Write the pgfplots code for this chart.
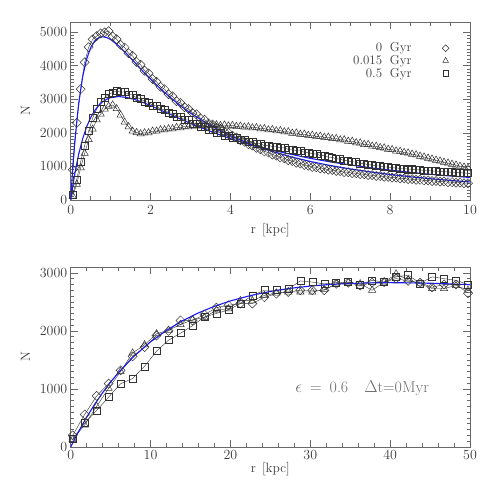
\documentclass[border=0pt]{standalone}
\usepackage{fontspec}
\usepackage{pgfplots}
\pgfplotsset{compat=1.18}
\usepackage{pgfplotstable}

\definecolor{mk}{RGB}{50,50,50}
\definecolor{ax}{RGB}{105,105,105}
\definecolor{txt}{RGB}{60,60,60}
\definecolor{fitblue}{RGB}{25,25,255}

% top panel: N(r) at three times, r in kpc
\pgfplotstableread{
r D T S
0.05 900 120 150
0.15 2300 470 610
0.25 3300 960 1140
0.35 4100 1390 1630
0.45 4550 1800 2050
0.55 4780 2110 2440
0.65 4880 2390 2710
0.75 4960 2560 2920
0.85 4990 2710 3050
0.95 5030 2790 3150
1.05 4870 2830 3200
1.15 4790 2720 3250
1.25 4620 2530 3210
1.35 4540 2320 3220
1.45 4370 2180 3140
1.55 4290 2050 3130
1.65 4110 2010 3040
1.75 4030 1970 3020
1.85 3850 2000 2930
1.95 3770 2000 2910
2.05 3600 2050 2820
2.15 3520 2050 2800
2.25 3370 2090 2710
2.35 3300 2090 2690
2.45 3150 2120 2600
2.55 3090 2120 2580
2.65 2940 2160 2490
2.75 2890 2150 2480
2.85 2760 2190 2390
2.95 2710 2180 2380
3.05 2590 2210 2280
3.15 2550 2200 2270
3.25 2430 2230 2190
3.35 2390 2215 2180
3.45 2280 2245 2090
3.55 2250 2220 2090
3.65 2150 2240 2010
3.75 2120 2215 2010
3.85 2030 2230 1920
3.95 2000 2205 1920
4.05 1915 2220 1850
4.15 1860 2190 1850
4.25 1780 2200 1780
4.35 1735 2170 1790
4.45 1660 2180 1720
4.55 1620 2150 1730
4.65 1550 2155 1670
4.75 1510 2120 1680
4.85 1445 2125 1620
4.95 1415 2090 1630
5.05 1350 2095 1590
5.15 1320 2060 1595
5.25 1265 2065 1550
5.35 1240 2030 1550
5.45 1185 2030 1510
5.55 1160 1990 1510
5.65 1110 1995 1465
5.75 1085 1955 1465
5.85 1040 1960 1420
5.95 1020 1925 1420
6.05 980 1930 1375
6.15 975 1895 1370
6.25 940 1900 1325
6.35 932 1865 1320
6.45 900 1870 1275
6.55 895 1830 1270
6.65 865 1830 1225
6.75 860 1790 1220
6.85 830 1790 1175
6.95 828 1750 1170
7.05 800 1750 1130
7.15 797 1705 1130
7.25 770 1700 1085
7.35 768 1655 1085
7.45 742 1650 1045
7.55 740 1605 1045
7.65 715 1600 1010
7.75 714 1560 1015
7.85 690 1550 980
7.95 688 1510 985
8.05 667 1500 955
8.15 665 1460 960
8.25 643 1450 935
8.35 643 1415 940
8.45 622 1400 915
8.55 622 1365 920
8.65 602 1345 895
8.75 602 1305 900
8.85 583 1280 875
8.95 584 1245 880
9.05 564 1220 858
9.15 566 1185 865
9.25 547 1160 842
9.35 549 1125 850
9.45 530 1100 827
9.55 532 1065 835
9.65 514 1040 812
9.75 516 1005 820
9.85 498 980 798
9.95 501 945 805
}\toptab

% top panel: the two smooth fits
\pgfplotstableread{
r F0 F5
0 0 0
0.05 935 407
0.1 1710 766
0.2 2880 1363
0.3 3674 1825
0.4 4200 2182
0.5 4535 2455
0.6 4733 2661
0.7 4832 2814
0.8 4861 2923
0.9 4838 2999
1.0 4779 3047
1.2 4592 3080
1.4 4355 3055
1.6 4102 2994
1.8 3846 2909
2.0 3601 2812
2.2 3368 2700
2.4 3150 2600
2.6 2948 2490
2.8 2761 2385
3.0 2589 2282
3.5 2216 2041
4.0 1913 1827
4.5 1665 1645
5.0 1461 1500
5.5 1291 1365
6.0 1148 1240
6.5 1027 1135
7.0 924 1045
7.5 836 960
8.0 759 890
8.5 693 825
9.0 635 765
9.5 583 715
10.0 538 670
}\topfit

% bottom panel
\pgfplotstableread{
r D T S
0.25 200 130 140
1.75 560 380 410
3.25 880 700 630
4.75 1090 1010 860
6.25 1320 1300 1090
7.75 1560 1620 1180
9.25 1720 1760 1390
10.75 1920 1950 1650
12.25 2000 2010 1840
13.75 2180 2110 1960
15.25 2180 2190 2090
16.75 2280 2230 2240
18.25 2400 2360 2300
19.75 2440 2380 2360
21.25 2470 2520 2470
22.75 2470 2520 2610
24.25 2580 2610 2700
25.75 2640 2650 2700
27.25 2670 2670 2720
28.75 2700 2670 2860
30.25 2700 2670 2840
31.75 2700 2710 2810
33.25 2810 2810 2830
34.75 2830 2830 2840
36.25 2780 2810 2800
37.75 2830 2700 2870
39.25 2840 2840 2840
40.75 2900 2980 2930
42.25 2860 2880 2960
43.75 2830 2810 2820
45.25 2750 2730 2930
46.75 2800 2730 2900
48.25 2800 2780 2870
49.75 2650 2700 2800
}\bottab

\pgfplotstableread{
r F
0 0
1 269
2 513
3 735
4 936
5 1118
6 1284
8 1572
10 1811
12 2009
14 2174
16 2310
18 2423
20 2516
22.5 2608
25 2679
27.5 2733
30 2772
32.5 2800
35 2817
37.5 2827
40 2830
42.5 2827
45 2820
47.5 2809
50 2795
}\botfit

\pgfplotsset{
  idl/.style={
    scale only axis,
    width=399.3bp,
    xmin=0,
    tick align=inside,
    major tick length=7bp,
    minor tick length=3.5bp,
    axis line style={ax, line width=0.8bp},
    tick style={ax, line width=0.6bp},
    /pgf/number format/1000 sep={},
    /pgf/number format/assume math mode=true,
    tick label style={text=txt, font=\fontsize{14}{16}\selectfont},
    label style={text=txt, font=\fontsize{13.5}{15}\selectfont},
    ylabel={N},
    xlabel={r\hspace{0.45em}[kpc]},
    ylabel shift=3bp,
  },
  dia/.style={mk, line width=0.4bp, mark=square, mark size=3.2bp,
    mark options={rotate=45, line width=0.5bp, solid}},
  tri/.style={mk, line width=0.4bp, mark=triangle, mark size=4.2bp,
    mark options={line width=0.5bp, solid}},
  sqr/.style={mk, line width=0.4bp, mark=square, mark size=3.5bp,
    mark options={line width=0.5bp, solid}},
  fit/.style={fitblue, line width=1.1bp, no marks},
}

\begin{document}
\begin{tikzpicture}
\useasboundingbox (0,0) rectangle (491bp,491bp);

\begin{axis}[idl,
  at={(70.7bp,291bp)}, anchor=south west,
  height=178bp,
  xmax=10, ymin=0, ymax=5300,
  xtick={0,2,...,10}, minor x tick num=3,
  ytick={0,1000,...,5000}, minor y tick num=9,
  xticklabel style={yshift=-2bp},
  xlabel shift=1bp,
  legend style={draw=none, fill=none, at={(rel axis cs:0.95,0.895)},
    anchor=north east, font=\fontsize{13}{13.5}\selectfont, text=txt,
    row sep=-2bp, inner sep=0pt},
  legend cell align=right,
  legend plot pos=right,
  legend image code/.code={\path (0bp,0bp) (36bp,0bp);
    \draw[#1] plot coordinates {(32bp,0bp)};},
]
\addplot[sqr, forget plot] table[x=r, y=S] {\toptab};
\addplot[tri, forget plot] table[x=r, y=T] {\toptab};
\addplot[dia, forget plot] table[x=r, y=D] {\toptab};
\addplot[fit, forget plot] table[x=r, y=F5] {\topfit};
\addplot[fit, forget plot] table[x=r, y=F0] {\topfit};

\addlegendimage{only marks, mk, mark=square, mark size=2.4bp, mark options={rotate=45, line width=0.5bp}}
\addlegendentry{0\hspace{0.6em}Gyr}
\addlegendimage{only marks, mk, mark=triangle, mark size=3.3bp, mark options={line width=0.5bp}}
\addlegendentry{0.015\hspace{0.6em}Gyr}
\addlegendimage{only marks, mk, mark=square, mark size=2.7bp, mark options={line width=0.5bp}}
\addlegendentry{0.5\hspace{0.6em}Gyr}
\end{axis}

\begin{axis}[idl,
  at={(70.7bp,44bp)}, anchor=south west,
  height=180bp,
  xmax=50, ymin=0, ymax=3100,
  xtick={0,10,...,50}, minor x tick num=4,
  ytick={0,1000,2000,3000}, minor y tick num=9,
  xticklabel style={yshift=0bp},
  xlabel shift=-5bp,
]
\addplot[sqr] table[x=r, y=S] {\bottab};
\addplot[tri] table[x=r, y=T] {\bottab};
\addplot[dia] table[x=r, y=D] {\bottab};
\addplot[fit] table[x=r, y=F] {\botfit};
\node[text=gray!85!black, font=\fontsize{16}{18}\selectfont] at (axis cs:36.5,1010)
  {$\epsilon$\hspace{8bp}=\hspace{8bp}0.6\hspace{16bp}$\Delta$t=0Myr};
\end{axis}
\end{tikzpicture}
\end{document}
